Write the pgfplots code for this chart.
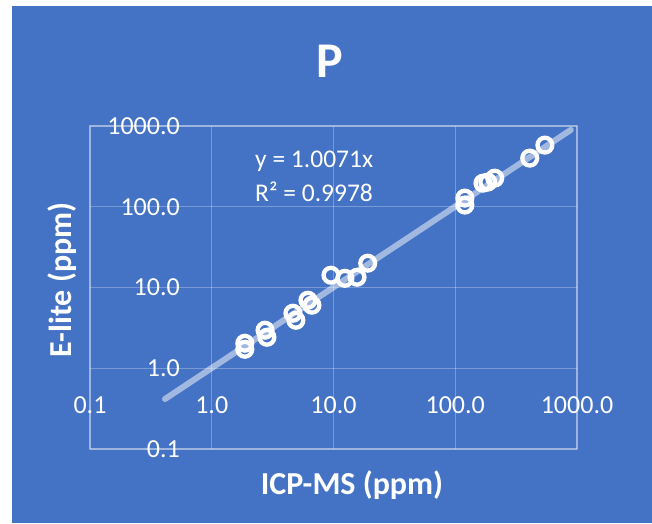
\documentclass[border=0pt]{standalone}
\usepackage{pgfplots}
\pgfplotsset{compat=1.18}
\usepackage{fontspec}
\setmainfont{Carlito}
\definecolor{bg}{RGB}{68,114,196}
\begin{document}
\begin{tikzpicture}[x=1pt,y=1pt]
\useasboundingbox (0,0) rectangle (652,-523);
\fill[bg] (12,-6) rectangle (652,-523);
\begin{axis}[
  at={(90pt,-449pt)}, anchor=south west,
  scale only axis, width=487pt, height=323pt,
  xmode=log, ymode=log,
  xmin=0.1, xmax=1000, ymin=0.1, ymax=1000,
  xtick={0.1,1,10,100,1000}, ytick={0.1,1,10,100,1000},
  xticklabels={0.1,1.0,10.0,100.0,1000.0},
  yticklabels={0.1,1.0,10.0,100.0,1000.0},
  xminorticks=false, yminorticks=false,
  major tick length=0pt,
  grid=major,
  grid style={white, opacity=0.28, line width=1.2pt},
  axis line style={white, opacity=0.28, line width=1.2pt},
  ticklabel style={font=\fontsize{26}{30}\selectfont, text=white},
  xticklabel style={anchor=center, yshift=44pt},
  yticklabel style={anchor=east, inner sep=0pt, xshift=90pt},
]
\addplot[line width=6pt, white, opacity=0.5, line cap=round] coordinates {(0.413,0.416) (889,895)};
\addplot[only marks, mark=o, mark size=7.4pt, white, mark options={line width=4.3pt, draw=white}] coordinates {
(1.87,2.04) (1.87,1.72) (2.74,2.96) (2.84,2.42) (4.64,4.80) (4.91,3.93)
(6.17,6.96) (6.65,6.04) (9.53,14.2) (12.4,13.0) (15.6,13.4) (19.1,20.0)
(120,128) (120,105) (169,196) (185,202) (211,226) (409,400) (545,580)
};
\end{axis}
\node[text=white, font=\bfseries\fontsize{50}{60}\selectfont] at (330,-61) {P};
\node[text=white, font=\bfseries\fontsize{32}{38}\selectfont] at (352,-485) {ICP-MS (ppm)};
\node[text=white, rotate=90, font=\bfseries\fontsize{32}{38}\selectfont] at (62,-280) {E-lite (ppm)};
\node[anchor=west, text=white, inner sep=0pt, font=\fontsize{25.5}{30}\selectfont] at (255,-161) {y = 1.0071x};
\node[anchor=west, text=white, inner sep=0pt, font=\fontsize{25.5}{30}\selectfont] at (255,-192) {R² = 0.9978};
\end{tikzpicture}
\end{document}
